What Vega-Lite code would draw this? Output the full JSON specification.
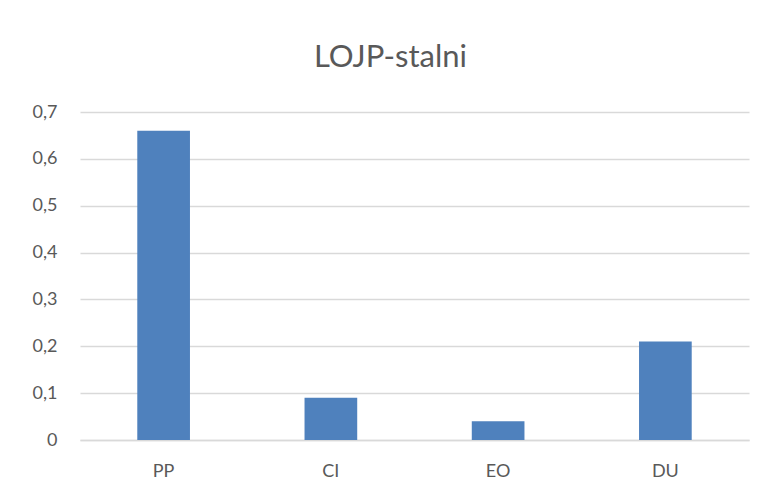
{
  "$schema": "https://vega.github.io/schema/vega-lite/v6.json",
  "autosize": {"type": "none"},
  "width": 669,
  "height": 328,
  "padding": {"left": 80, "top": 112, "right": 19, "bottom": 57},
  "background": "white",
  "title": {
    "text": "LOJP-stalni",
    "anchor": "middle",
    "frame": "bounds",
    "font": "Lato",
    "fontSize": 31,
    "fontWeight": "normal",
    "color": "#595959",
    "offset": 29
  },
  "data": {
    "values": [
      {"category": "PP", "value": 0.66},
      {"category": "CI", "value": 0.09},
      {"category": "EO", "value": 0.04},
      {"category": "DU", "value": 0.21}
    ]
  },
  "mark": {"type": "bar", "color": "#4f81bd"},
  "encoding": {
    "x": {
      "field": "category",
      "type": "nominal",
      "sort": null,
      "title": null,
      "scale": {"paddingInner": 0.685, "paddingOuter": 0.3425},
      "axis": {
        "labelAngle": 0,
        "ticks": false,
        "domain": true,
        "domainColor": "#d9d9d9",
        "domainWidth": 1.5,
        "labelFont": "Lato",
        "labelFontSize": 18,
        "labelColor": "#595959",
        "labelPadding": 22
      }
    },
    "y": {
      "field": "value",
      "type": "quantitative",
      "title": null,
      "scale": {"domain": [0, 0.7], "nice": false},
      "axis": {
        "values": [0, 0.1, 0.2, 0.3, 0.4, 0.5, 0.6, 0.7],
        "labelExpr": "replace(format(datum.value, '~g'), '.', ',')",
        "ticks": false,
        "domain": false,
        "grid": true,
        "gridColor": "#d9d9d9",
        "gridWidth": 1.5,
        "labelFont": "Lato",
        "labelFontSize": 18,
        "labelColor": "#595959",
        "labelPadding": 23
      }
    }
  },
  "config": {
    "view": {"stroke": null}
  }
}
